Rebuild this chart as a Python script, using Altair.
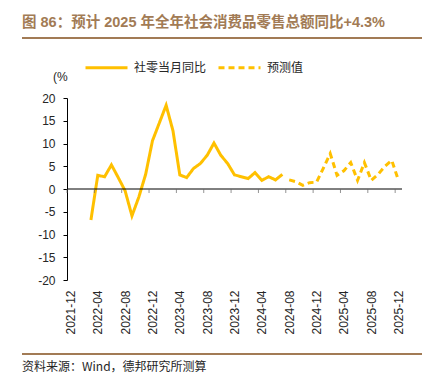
import altair as alt
import pandas as pd

# ---------------- data ----------------
months = [f"{(24263 + i) // 12}-{(24263 + i) % 12 + 1:02d}" for i in range(49)]  # 2021-12 .. 2025-12
tick_labels = months[::4]
y_ticks = [-20, -15, -10, -5, 0, 5, 10, 15, 20]

series_names = ["社零当月同比", "预测值"]
actual_months = months[3:32]
actual_values = [-6.8, 3.0, 2.7, 5.3, 2.5, -0.4, -5.9, -1.8, 3.2, 10.6, 14.5, 18.4,
                 12.8, 3.1, 2.5, 4.5, 5.6, 7.4, 10.1, 7.4, 5.6, 3.1, 2.7, 2.3,
                 3.6, 1.9, 2.7, 2.0, 3.2]
forecast_months = months[32:49]
forecast_values = [2.0, 1.6, 0.8, 1.4, 1.5, 4.6, 7.8, 3.0, 4.0, 5.8, 1.9, 5.8,
                   1.9, 3.2, 5.0, 6.3, 1.8]

title_text = "图 86：预计 2025 年全年社会消费品零售总额同比+4.3%"
source_text = "资料来源：Wind，德邦研究所测算"
unit_text = "(%"

# ---------------- style ----------------
GOLD = "#FFC000"
BROWN = "#A27B55"
TXT = "#262626"
LATIN = "'Liberation Sans', Arial, 'Noto Sans CJK SC'"
CJK = "'Noto Sans CJK SC', 'Liberation Sans'"

W, H = 335, 182
step = W / len(months)

df = pd.concat([
    pd.DataFrame({"month": actual_months, "value": actual_values, "series": series_names[0]}),
    pd.DataFrame({"month": forecast_months, "value": forecast_values, "series": series_names[1]}),
], ignore_index=True)

x_scale = alt.Scale(type="point", domain=months, padding=0.5)
y_scale = alt.Scale(domain=[-20, 20], nice=False, zero=False)

x_axis = alt.Axis(values=tick_labels, labelAngle=270, domain=False, ticks=False,
                  labelPadding=10, title=None, grid=False, labelFont=LATIN,
                  labelFontSize=12, labelColor=TXT, labelOverlap=False)
y_axis = alt.Axis(values=y_ticks, title=None, grid=False, tickSize=4, labelPadding=8,
                  domainColor="#000", tickColor="#000", labelFont=LATIN,
                  labelFontSize=12, labelColor=TXT, labelOverlap=False,
                  labelExpr="datum.value + ''")

lines = alt.Chart(df).mark_line(strokeWidth=3, color=GOLD).encode(
    x=alt.X("month:O", scale=x_scale, sort=months, axis=x_axis),
    y=alt.Y("value:Q", scale=y_scale, axis=y_axis),
    strokeDash=alt.StrokeDash("series:N",
                              scale=alt.Scale(domain=series_names, range=[[1, 0], [6, 4]]),
                              legend=alt.Legend(orient="none", legendX=17, legendY=-53,
                                                direction="horizontal", title=None,
                                                symbolType="stroke", symbolSize=1764,
                                                symbolStrokeWidth=3, symbolStrokeColor=GOLD,
                                                labelFont=CJK, labelFontSize=12,
                                                labelColor=TXT, labelOffset=5,
                                                columnPadding=5, padding=0)),
)

zero_rule = alt.Chart(pd.DataFrame({"value": [0]})).mark_rule(color="#000", strokeWidth=1).encode(
    y=alt.Y("value:Q", scale=y_scale, axis=y_axis)
)

xticks = alt.Chart(pd.DataFrame({"month": tick_labels, "value": [0] * len(tick_labels)})).mark_tick(
    orient="vertical", size=4, thickness=1, color="#666", xOffset=-step / 2, yOffset=2
).encode(
    x=alt.X("month:O", scale=x_scale, sort=months, axis=x_axis),
    y=alt.Y("value:Q", scale=y_scale, axis=y_axis),
)

def text_layer(txt, x, y, **kw):
    return alt.Chart(pd.DataFrame({"t": [txt]})).mark_text(**kw).encode(
        text="t:N", x=alt.value(x), y=alt.value(y))

title = text_layer(title_text, -45, -75, align="left", baseline="middle", font=LATIN,
                   fontSize=14.5, fontWeight="bold", color=BROWN)
unit = text_layer(unit_text, -14, -21, align="left", baseline="middle", font=LATIN,
                  fontSize=12, color=TXT)
source = text_layer(source_text, -45, 269, align="left", baseline="middle", font=CJK,
                    fontSize=12, color=TXT)

top_line = alt.Chart(pd.DataFrame({"a": [0]})).mark_rule(color=BROWN, strokeWidth=2).encode(
    x=alt.value(-45), x2=alt.value(368), y=alt.value(-60))
bottom_line = alt.Chart(pd.DataFrame({"a": [0]})).mark_rule(color=BROWN, strokeWidth=2).encode(
    x=alt.value(-45), x2=alt.value(368), y=alt.value(256))

chart = alt.layer(lines, zero_rule, xticks, title, unit, source, top_line, bottom_line).properties(
    width=W, height=H,
    background="white",
    padding={"left": 59, "top": 90, "right": 20, "bottom": 94},
    autosize=alt.AutoSizeParams(type="none"),
).configure_view(strokeWidth=0)

chart.save("out.html", embed_options={"renderer": "svg", "actions": False})
